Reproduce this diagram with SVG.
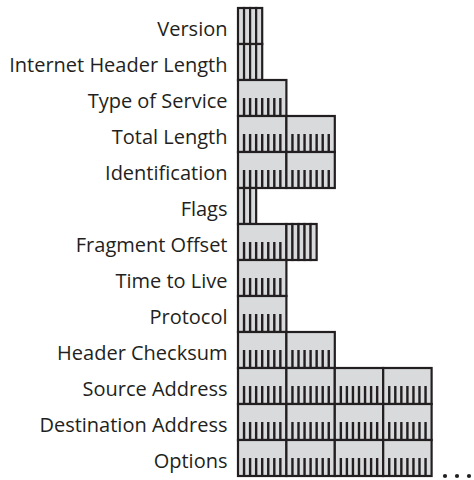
<svg xmlns="http://www.w3.org/2000/svg" xmlns:xlink="http://www.w3.org/1999/xlink" width="474" height="480" viewBox="0 0 474 480">
<style>
.lbl{font-family:"Open Sans","Noto Sans",sans-serif;font-size:20px;fill:#231f20;text-anchor:end}
.box{fill:#d9dadb;stroke:#231f20;stroke-width:2.2}
.tick{stroke:#231f20;stroke-width:2.4;fill:none}
.dot{fill:#231f20}
</style>
<defs>
<g id="byte"><rect width="48.4" height="36" class="box"/><path class="tick" d="M6.05 18V36M12.1 18V36M18.15 18V36M24.2 18V36M30.25 18V36M36.3 18V36M42.35 18V36"/></g>
<rect id="bit" width="6.05" height="36" class="box"/>
</defs>
<rect width="474" height="480" fill="#ffffff"/>
<g id="version"><text class="lbl" x="227.5" y="35.7">Version</text>
<use xlink:href="#bit" x="238" y="8"/><use xlink:href="#bit" x="244.05" y="8"/><use xlink:href="#bit" x="250.1" y="8"/><use xlink:href="#bit" x="256.15" y="8"/></g>
<g id="ihl"><text class="lbl" x="227.5" y="71.7">Internet Header Length</text>
<use xlink:href="#bit" x="238" y="44"/><use xlink:href="#bit" x="244.05" y="44"/><use xlink:href="#bit" x="250.1" y="44"/><use xlink:href="#bit" x="256.15" y="44"/></g>
<g id="tos"><text class="lbl" x="227.5" y="107.7">Type of Service</text>
<use xlink:href="#byte" x="238" y="80"/></g>
<g id="total-length"><text class="lbl" x="227.5" y="143.7">Total Length</text>
<use xlink:href="#byte" x="238" y="116"/><use xlink:href="#byte" x="286.4" y="116"/></g>
<g id="identification"><text class="lbl" x="227.5" y="179.7">Identification</text>
<use xlink:href="#byte" x="238" y="152"/><use xlink:href="#byte" x="286.4" y="152"/></g>
<g id="flags"><text class="lbl" x="227.5" y="215.7">Flags</text>
<use xlink:href="#bit" x="238" y="188"/><use xlink:href="#bit" x="244.05" y="188"/><use xlink:href="#bit" x="250.1" y="188"/></g>
<g id="fragment-offset"><text class="lbl" x="227.5" y="251.7">Fragment Offset</text>
<use xlink:href="#byte" x="238" y="224"/>
<use xlink:href="#bit" x="286.4" y="224"/><use xlink:href="#bit" x="292.45" y="224"/><use xlink:href="#bit" x="298.5" y="224"/><use xlink:href="#bit" x="304.55" y="224"/><use xlink:href="#bit" x="310.6" y="224"/></g>
<g id="ttl"><text class="lbl" x="227.5" y="287.7">Time to Live</text>
<use xlink:href="#byte" x="238" y="260"/></g>
<g id="protocol"><text class="lbl" x="227.5" y="323.7">Protocol</text>
<use xlink:href="#byte" x="238" y="296"/></g>
<g id="header-checksum"><text class="lbl" x="227.5" y="359.7">Header Checksum</text>
<use xlink:href="#byte" x="238" y="332"/><use xlink:href="#byte" x="286.4" y="332"/></g>
<g id="source-address"><text class="lbl" x="227.5" y="395.7">Source Address</text>
<use xlink:href="#byte" x="238" y="368"/><use xlink:href="#byte" x="286.4" y="368"/><use xlink:href="#byte" x="334.8" y="368"/><use xlink:href="#byte" x="383.2" y="368"/></g>
<g id="destination-address"><text class="lbl" x="227.5" y="431.7">Destination Address</text>
<use xlink:href="#byte" x="238" y="404"/><use xlink:href="#byte" x="286.4" y="404"/><use xlink:href="#byte" x="334.8" y="404"/><use xlink:href="#byte" x="383.2" y="404"/></g>
<g id="options"><text class="lbl" x="227.5" y="467.7">Options</text>
<use xlink:href="#byte" x="238" y="440"/><use xlink:href="#byte" x="286.4" y="440"/><use xlink:href="#byte" x="334.8" y="440"/><use xlink:href="#byte" x="383.2" y="440"/>
<circle class="dot" cx="445" cy="476" r="2.1"/><circle class="dot" cx="457" cy="476" r="2.1"/><circle class="dot" cx="469" cy="476" r="2.1"/></g>
<g id="connectors"/>
</svg>
